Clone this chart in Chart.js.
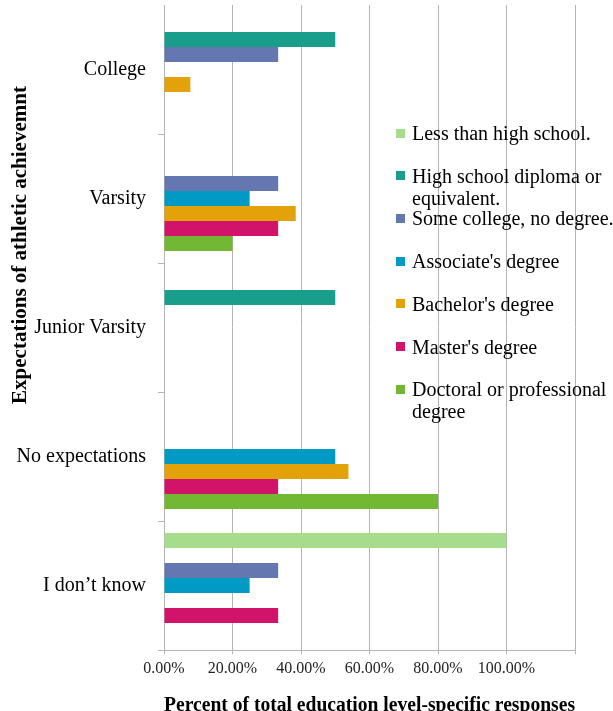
<!DOCTYPE html>
<html>
<head>
<meta charset="utf-8">
<script src="https://cdn.jsdelivr.net/npm/chart.js@4/dist/chart.umd.min.js"></script>
<style>
  body { margin: 0; background: #fff; }
  #wrap { position: relative; width: 613px; height: 711px; overflow: hidden; }
  #legend { position: absolute; left: 396px; top: 0; font-family: "Liberation Serif", serif; font-size: 20px; color: #000; }
  .item { position: absolute; left: 0; }
  .item .box { position: absolute; left: 0; width: 9px; height: 9px; }
  .item .txt { position: absolute; left: 16px; width: 215px; line-height: 22px; white-space: normal; }
</style>
</head>
<body>
<div id="wrap">
  <canvas id="eduChart" width="613" height="711"></canvas>
  <div id="legend"></div>
</div>
<script>
const categories = ['College', 'Varsity', 'Junior Varsity', 'No expectations', 'I don\u2019t know'];
const seriesNames = [
  'Less than high school.',
  'High school diploma or equivalent.',
  'Some college, no degree.',
  "Associate's degree",
  "Bachelor's degree",
  "Master's degree",
  'Doctoral or professional degree'
];
const seriesColors = ['#a7dc8d', '#1a9e8c', '#6577b0', '#009ac4', '#e3a10a', '#d2136a', '#72b833'];

// percent of responses per education level, in category order
const lessThanHS  = [0, 0, 0, 0, 100];
const highSchool  = [50, 0, 50, 0, 0];
const someCollege = [33.33, 33.33, 0, 0, 33.33];
const associate   = [0, 25, 0, 50, 25];
const bachelor    = [7.69, 38.46, 0, 53.85, 0];
const master      = [0, 33.33, 0, 33.33, 33.33];
const doctoral    = [0, 20, 0, 80, 0];
const seriesValues = [lessThanHS, highSchool, someCollege, associate, bachelor, master, doctoral];

const xTicks = [0, 20, 40, 60, 80, 100, 120];

const serif = '"Liberation Serif", "Times New Roman", serif';
const gridGrey = '#b4b4b4';

const yTitlePlugin = {
  id: 'yTitle',
  afterDraw(chart) {
    const ctx = chart.ctx;
    ctx.save();
    ctx.translate(21, 245);
    ctx.rotate(-Math.PI / 2);
    ctx.font = 'bold 21px ' + serif;
    ctx.fillStyle = '#000';
    ctx.textAlign = 'center';
    ctx.textBaseline = 'middle';
    ctx.fillText('Expectations of athletic achievemnt', 0, 0);
    ctx.restore();
  }
};

const eduChart = new Chart(document.getElementById('eduChart').getContext('2d'), {
  type: 'bar',
  data: {
    labels: categories,
    datasets: seriesNames.map((name, i) => ({
      label: name,
      data: seriesValues[i],
      backgroundColor: seriesColors[i],
      borderWidth: 0,
      categoryPercentage: 0.814,
      barPercentage: 1.0
    }))
  },
  options: {
    indexAxis: 'y',
    responsive: false,
    animation: false,
    layout: { padding: { top: 5, right: 38, left: 0, bottom: 0 } },
    plugins: {
      legend: { display: false },
      tooltip: { enabled: false }
    },
    scales: {
      x: {
        min: 0,
        max: 120,
        afterFit: s => { s.height = 61; s.paddingLeft = 0; s.paddingRight = 0; },
        afterBuildTicks: s => { s.ticks = xTicks.map(v => ({ value: v })); },
        grid: { color: gridGrey, tickLength: 4, drawTicks: true },
        border: { color: gridGrey },
        ticks: {
          padding: 5,
          color: '#222',
          font: { family: serif, size: 16 },
          callback: v => (v > 100 ? '' : v.toFixed(2) + '%')
        },
        title: {
          display: true,
          text: 'Percent of total education level-specific responses',
          color: '#000',
          font: { family: serif, size: 20, weight: 'bold' },
          padding: { top: 0, bottom: -7 }
        }
      },
      y: {
        afterFit: s => { s.width = 164; s.paddingTop = 0; s.paddingBottom = 0; },
        grid: {
          drawOnChartArea: false,
          offset: true,
          tickLength: 6,
          color: gridGrey,
          tickColor: c => (c.index === 0 ? 'rgba(0,0,0,0)' : gridGrey)
        },
        border: { color: gridGrey },
        ticks: {
          padding: 12,
          color: '#000',
          font: { family: serif, size: 20 }
        }
      }
    }
  },
  plugins: [yTitlePlugin]
});

// legend placed inside the plot area like the original
const legendEl = document.getElementById('legend');
seriesNames.forEach((name, i) => {
  const cy = 133 + i * 42.7;
  const item = document.createElement('div');
  item.className = 'item';
  item.style.top = cy + 'px';
  const box = document.createElement('div');
  box.className = 'box';
  box.style.background = seriesColors[i];
  box.style.top = '-4.5px';
  const txt = document.createElement('div');
  txt.className = 'txt';
  txt.style.top = '-11px';
  txt.textContent = name;
  item.appendChild(box);
  item.appendChild(txt);
  legendEl.appendChild(item);
});
</script>
</body>
</html>
